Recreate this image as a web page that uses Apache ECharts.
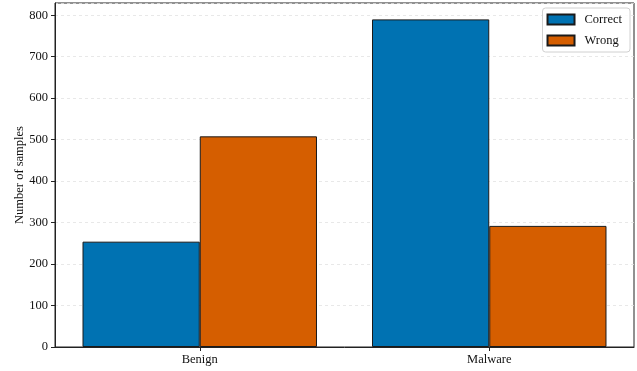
<!DOCTYPE html>
<html>
<head>
<meta charset="utf-8">
<script src="https://cdn.jsdelivr.net/npm/echarts@6/dist/echarts.min.js"></script>
<style>
  html, body { margin: 0; padding: 0; background: #fff; }
  #chart { width: 637px; height: 371px; }
</style>
</head>
<body>
<div id="chart"></div>
<script>
// Classification outcome per sample class
const categories = ['Benign', 'Malware'];
const correctCounts = [254, 790];
const wrongCounts = [508, 292];
const yTicks = [0, 100, 200, 300, 400, 500, 600, 700, 800];

const FONT = '"Liberation Serif", "DejaVu Serif", serif';
const BLUE = '#0072B2';
const ORANGE = '#D55E00';

const chart = echarts.init(document.getElementById('chart'), null, { renderer: 'canvas' });

chart.setOption({
  animation: false,
  backgroundColor: '#ffffff',
  textStyle: { fontFamily: FONT },
  grid: {
    left: 55, right: 3, top: 3, bottom: 24,
    containLabel: false,
    outerBoundsMode: 'none',
    show: true, borderColor: '#222', borderWidth: 1, backgroundColor: 'transparent'
  },
  legend: {
    orient: 'vertical',
    right: 7, top: 8,
    icon: 'rect',
    itemWidth: 27, itemHeight: 10,
    itemGap: 8,
    padding: [5, 8, 5, 4],
    borderColor: '#d0d0d0', borderWidth: 1, borderRadius: 3,
    backgroundColor: 'rgba(255,255,255,0.85)',
    textStyle: { fontFamily: FONT, fontSize: 12.5, color: '#111', padding: [0, 0, 0, 5] },
    data: ['Correct', 'Wrong']
  },
  xAxis: {
    type: 'category',
    data: categories,
    axisLine: { show: true, lineStyle: { color: '#222', width: 1 } },
    axisTick: { show: true, alignWithLabel: true, length: 4, inside: false, lineStyle: { color: '#222' } },
    axisLabel: { fontFamily: FONT, fontSize: 12.5, color: '#111', margin: 6 },
    splitLine: { show: false }
  },
  yAxis: {
    type: 'value',
    min: 0,
    max: 829.5,
    interval: 100,
    name: 'Number of samples',
    nameLocation: 'middle',
    nameGap: 29,
    nameMoveOverlap: false,
    nameTextStyle: { fontFamily: FONT, fontSize: 12.5, color: '#111' },
    axisLine: { show: true, lineStyle: { color: '#222', width: 1 } },
    axisTick: { show: true, length: 4, lineStyle: { color: '#222' } },
    axisLabel: {
      fontFamily: FONT, fontSize: 12.5, color: '#111', margin: 7,
      showMaxLabel: false,
      formatter: v => (yTicks.indexOf(v) >= 0 ? String(v) : '')
    },
    splitLine: { show: true, lineStyle: { color: '#e2e2e2', type: [3, 3], width: 0.8 } }
  },
  series: [
    {
      name: 'Correct',
      type: 'bar',
      data: correctCounts,
      barGap: '0%',
      barCategoryGap: '19%',
      itemStyle: { color: BLUE, borderColor: '#1a1a1a', borderWidth: 1 }
    },
    {
      name: 'Wrong',
      type: 'bar',
      data: wrongCounts,
      barGap: '0%',
      barCategoryGap: '19%',
      itemStyle: { color: ORANGE, borderColor: '#1a1a1a', borderWidth: 1 }
    }
  ]
});
</script>
</body>
</html>
